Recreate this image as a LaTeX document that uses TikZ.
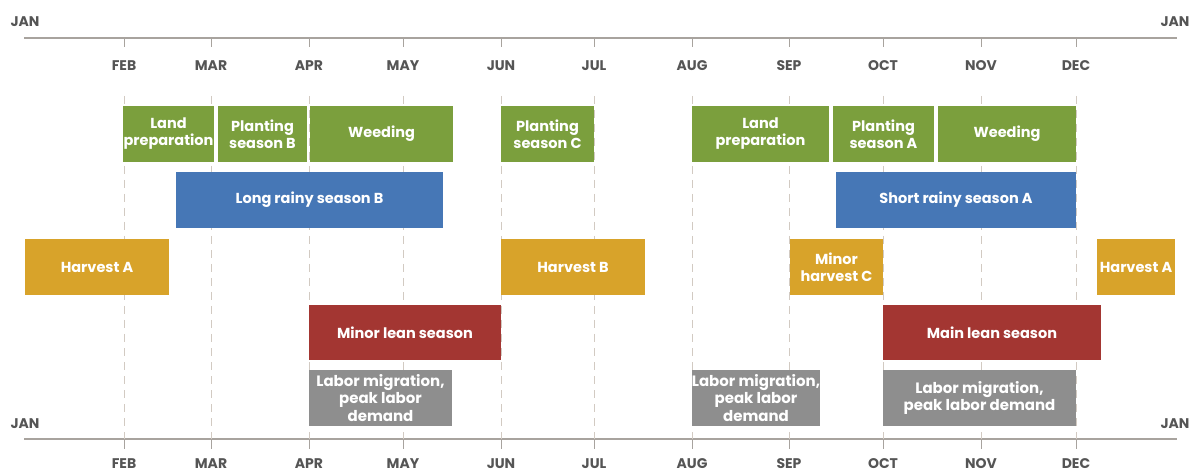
\documentclass[tikz,border=0pt]{standalone}
\usepackage{fontspec}
\setmainfont{Poppins}
\definecolor{cgreen}{HTML}{7B9F3D}
\definecolor{cblue}{HTML}{4677B6}
\definecolor{cgold}{HTML}{D8A32A}
\definecolor{cred}{HTML}{A33632}
\definecolor{cgray}{HTML}{8E8E8E}
\definecolor{caxis}{HTML}{A8A39E}
\definecolor{cdash}{HTML}{D2CAC2}
\definecolor{cmonth}{HTML}{555555}
\newcommand\gbox[7]{\node[#6, minimum width={(#3-#2)*1pt}, minimum height={(#5-#4)*1pt}] (#1) at ({(#2+#3)/2},{(#4+#5)/2}) {#7};}
\begin{document}
\begin{tikzpicture}[x=1pt,y=-1pt,
  bx/.style={draw=none, inner sep=0pt, outer sep=0pt, text=white, font=\bfseries\fontsize{14.5}{17}\selectfont, align=center},
  grn/.style={bx, fill=cgreen},
  blu/.style={bx, fill=cblue},
  gld/.style={bx, fill=cgold},
  rd/.style={bx, fill=cred},
  gry/.style={bx, fill=cgray, font=\bfseries\fontsize{15}{17.5}\selectfont},
  mon/.style={font=\bfseries\fontsize{14}{16}\selectfont, text=cmonth, inner sep=0pt},
  axisline/.style={draw=caxis, line width=1.6pt},
  tickmark/.style={draw=caxis, line width=1pt},
  guide/.style={draw=cdash, line width=1pt, dash pattern=on 8pt off 6pt}]
\useasboundingbox[fill=white] (0,0) rectangle (1195,473);
% axes
\coordinate (tA) at (24,38); \coordinate (tB) at (1177,38);
\coordinate (bA) at (24,439); \coordinate (bB) at (1177,439);
\draw[axisline] (tA) -- (tB);
\draw[axisline] (bA) -- (bB);
\node[mon] (tJAN1) at (25,22) {JAN};
\node[mon] (tJAN2) at (1175,22) {JAN};
\node[mon] (bJAN1) at (25,424) {JAN};
\node[mon] (bJAN2) at (1175,424) {JAN};
\foreach \m/\x in {FEB/124,MAR/211,APR/309,MAY/403,JUN/501,JUL/594,AUG/692,SEP/789,OCT/883,NOV/981,DEC/1076}{
  \node[mon] (t\m) at (\x,66) {\m};
  \node[mon] (b\m) at (\x,464) {\m};
  \coordinate (g1\m) at (\x,96);
  \coordinate (g2\m) at (\x,439);
  \draw[guide] (g1\m) -- (g2\m);
  \draw[tickmark] (\x,38) -- (\x,47);
  \draw[tickmark] (\x,439) -- (\x,449);
}
% green row
\gbox{lpB}{123}{214}{106}{162}{grn}{Land\\preparation}
\gbox{plB}{218}{307}{106}{162}{grn}{Planting\\season B}
\gbox{wdB}{310}{453}{106}{162}{grn}{Weeding}
\gbox{plC}{501}{594}{106}{162}{grn}{Planting\\season C}
\gbox{lpA}{692}{829}{106}{162}{grn}{Land\\preparation}
\gbox{plA}{833}{934}{106}{162}{grn}{Planting\\season A}
\gbox{wdA}{938}{1076}{106}{162}{grn}{Weeding}
% blue row
\gbox{lrB}{176}{443}{172}{228}{blu}{Long rainy season B}
\gbox{srA}{836}{1076}{172}{228}{blu}{Short rainy season A}
% gold row
\gbox{hA1}{25}{169}{239}{295}{gld}{Harvest A}
\gbox{hB}{501}{645}{239}{295}{gld}{Harvest B}
\gbox{hC}{790}{883}{239}{295}{gld}{Minor\\harvest C}
\gbox{hA2}{1097}{1175}{239}{295}{gld}{Harvest A}
% red row
\gbox{mls}{309}{501}{305}{360}{rd}{Minor lean season}
\gbox{mnls}{883}{1101}{305}{360}{rd}{Main lean season}
% gray row
\gbox{lm1}{309}{452}{370}{426}{gry}{Labor migration,\\peak labor\\demand}
\gbox{lm2}{692}{820}{370}{426}{gry}{Labor migration,\\peak labor\\demand}
\gbox{lm3}{883}{1076}{370}{426}{gry}{Labor migration,\\peak labor demand}
\end{tikzpicture}
\end{document}
